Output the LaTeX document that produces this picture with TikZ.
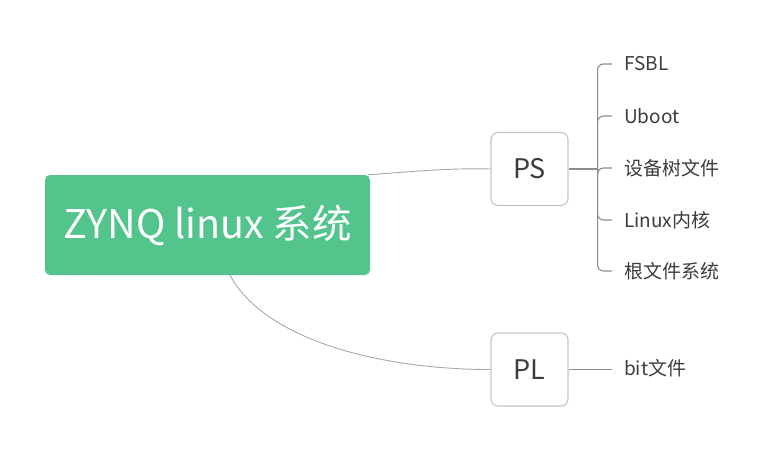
\documentclass[tikz,border=0pt]{standalone}
\usepackage{fontspec}
\setmainfont{Noto Sans CJK SC}
\usetikzlibrary{positioning, calc}
\definecolor{cRoot}{HTML}{52C48C}
\definecolor{cBoxB}{HTML}{C4C4C4}
\definecolor{cText}{HTML}{3C3C3C}
\definecolor{cCurve}{HTML}{A8A8A8}
\definecolor{cLine}{HTML}{8C8C8C}

\begin{document}
\begin{tikzpicture}[
  x=1pt, y=-1pt,
  rootbox/.style={fill=cRoot, rounded corners=5pt, text=white, minimum width=325pt,
                  minimum height=100pt, inner sep=0pt, font=\fontsize{39.5}{42}\selectfont},
  subbox/.style={draw=cBoxB, line width=1.1pt, rounded corners=7pt, fill=white, text=cText,
                 minimum width=77pt, minimum height=73pt, inner sep=0pt,
                 font=\fontsize{27}{30}\selectfont},
  leaf/.style={anchor=west, inner xsep=12pt, inner ysep=0pt, text=cText,
               font=\fontsize{19}{22}\selectfont},
  curve/.style={draw=cCurve, line width=0.9pt},
  twig/.style={draw=cLine, line width=1.1pt, rounded corners=6pt}
]
\useasboundingbox (0,0) rectangle (780,452);

% ROOT
\node[rootbox] (root) at (207.5,225) {ZYNQ linux 系统};

% FIRST LEVEL
\node[subbox] (ps) at (529.5,169) {PS};
\node[subbox] (pl) at (529.5,369.5) {PL};
\draw[curve] ([xshift=-2pt]root.north east) .. controls (420,171) and (450,168) .. (ps.west);
\draw[curve] ([xshift=22.5pt]root.south) .. controls (265,340) and (380,369.5) .. (pl.west);

% PS LEAVES
\node[leaf] (fsbl) at (612,64) {FSBL};
\node[leaf] (uboot) at (612,116) {Uboot};
\node[leaf] (dtree) at (612,168) {设备树文件};
\node[leaf] (kernel) at (612,220) {Linux内核};
\node[leaf] (rootfs) at (612,271) {根文件系统};
\coordinate (psj) at ($(ps.east)+(29,0)$);
\draw[twig] (ps.east) -- (psj);
\foreach \leafname in {fsbl, uboot, dtree, kernel, rootfs}
  \draw[twig] (psj) |- (\leafname.west);

% PL LEAF
\node[leaf] (bit) at (612,368) {bit文件};
\draw[twig] (pl.east) -- (pl.east -| bit.west);

\end{tikzpicture}
\end{document}
